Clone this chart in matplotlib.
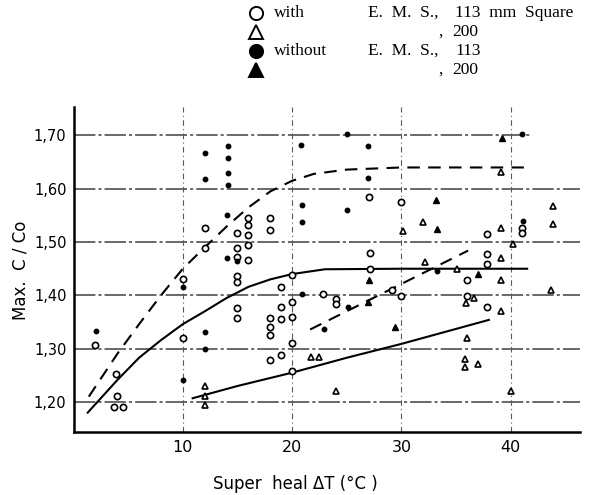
import numpy as np
import matplotlib
matplotlib.use("Agg")
import matplotlib.pyplot as plt

# open circles: with E.M.S., 113 mm square
with113_x = [2.0, 3.9, 4.0, 3.7, 4.5, 10.0, 10.0, 12.0, 12.0,
             15.0, 15.0, 15.0, 15.0, 15.0, 15.0, 15.0,
             16.0, 16.0, 16.0, 16.0, 16.0, 18.0, 18.0,
             18.0, 18.0, 18.0, 18.0, 19.0, 19.0, 19.0, 19.0,
             20.0, 20.0, 20.0, 20.0, 20.0,
             22.8, 24.0, 24.0, 29.1, 30.0, 27.0, 30.0, 27.1, 27.1,
             36.0, 36.0, 37.8, 37.8, 37.8, 37.8, 41.0, 41.0]
with113_y = [1.307, 1.252, 1.211, 1.191, 1.191, 1.431, 1.320, 1.526, 1.488,
             1.517, 1.488, 1.472, 1.437, 1.426, 1.376, 1.358,
             1.545, 1.532, 1.513, 1.495, 1.466, 1.545, 1.523,
             1.357, 1.340, 1.326, 1.279, 1.416, 1.378, 1.356, 1.288,
             1.439, 1.388, 1.360, 1.311, 1.258,
             1.402, 1.393, 1.383, 1.411, 1.399, 1.585, 1.575, 1.480, 1.450,
             1.429, 1.399, 1.515, 1.478, 1.458, 1.379, 1.526, 1.517]

# open triangles: with E.M.S., 200
with200_x = [12.0, 12.0, 12.0, 21.7, 22.5, 24.0,
             30.15, 32.0, 32.2, 35.1, 35.9, 36.6, 36.0, 35.8, 35.8, 37.0,
             39.1, 39.1, 40.2, 39.1, 39.1, 39.1, 40.0,
             43.9, 43.9, 43.7]
with200_y = [1.230, 1.211, 1.194, 1.284, 1.284, 1.221,
             1.520, 1.537, 1.463, 1.450, 1.385, 1.396, 1.320, 1.281, 1.266, 1.272,
             1.632, 1.526, 1.496, 1.470, 1.428, 1.371, 1.221,
             1.567, 1.534, 1.411]

# filled circles: without E.M.S., 113
wo113_x = [2.05, 10.0, 10.0, 12.0, 12.0, 12.0, 12.0,
           14.1, 14.1, 14.1, 14.1, 14.0, 14.0, 15.0,
           20.8, 20.9, 20.9, 20.9, 22.9, 25.0, 25.0, 25.1,
           26.9, 26.9, 33.3, 41.1, 41.0]
wo113_y = [1.334, 1.416, 1.241, 1.668, 1.618, 1.331, 1.300,
           1.680, 1.657, 1.629, 1.607, 1.550, 1.471, 1.465,
           1.683, 1.570, 1.537, 1.403, 1.336, 1.703, 1.560, 1.379,
           1.680, 1.621, 1.446, 1.540, 1.703]

# filled triangles: without E.M.S., 200
wo200_x = [39.2, 33.2, 33.25, 37.0, 27.05, 29.4, 26.9]
wo200_y = [1.696, 1.579, 1.524, 1.441, 1.429, 1.341, 1.387]

# drawn curves
upper_dash_x = [1.4, 4, 6, 8, 10, 12, 14, 16, 18, 20, 22, 25, 30, 35, 41.2]
upper_dash_y = [1.21, 1.29, 1.346, 1.40, 1.45, 1.49, 1.529, 1.565, 1.595, 1.615,
                1.628, 1.636, 1.640, 1.640, 1.640]
upper_solid_x = [1.3, 4, 6, 8, 10, 12, 14, 16, 18, 20, 23, 30, 41.5]
upper_solid_y = [1.18, 1.241, 1.283, 1.316, 1.346, 1.37, 1.395, 1.416, 1.43,
                 1.44, 1.449, 1.450, 1.450]
lower_solid_x = [10.9, 15, 20, 25, 30, 38]
lower_solid_y = [1.207, 1.230, 1.255, 1.283, 1.309, 1.354]
lower_dash_x = [21.65, 36.1]
lower_dash_y = [1.336, 1.484]

yticks = [1.20, 1.30, 1.40, 1.50, 1.60, 1.70]
ytick_labels = ["1,20", "1,30", "1,40", "1,50", "1,60", "1,70"]
xticks = [10, 20, 30, 40]

fig = plt.figure(figsize=(6.03, 4.95), dpi=100)
ax = fig.add_axes([0.1219, 0.1273, 0.84, 0.6566])
ax.set_xlim(0, 46.34)
ax.set_ylim(1.1437, 1.7535)

sans = "DejaVu Sans"
serif = "Liberation Serif"

# grid lines, hand drawn look
hl_ends = [46.34, 46.34, 46.34, 46.34, 46.34, 41.8]
for yv, xe in zip(yticks, hl_ends):
    ax.plot([0, xe], [yv, yv], color="0.25", lw=1.1,
            ls=(0, (14, 2, 2, 2)), zorder=1)
for xv in xticks:
    ax.axvline(xv, color="0.35", lw=0.8, ls=(0, (5, 3, 1, 3)), zorder=1)

ax.plot(upper_dash_x, upper_dash_y, color="black", lw=1.5, ls=(0, (6, 4)), zorder=3)
ax.plot(upper_solid_x, upper_solid_y, color="black", lw=1.5, zorder=3)
ax.plot(lower_solid_x, lower_solid_y, color="black", lw=1.5, zorder=3)
ax.plot(lower_dash_x, lower_dash_y, color="black", lw=1.5, ls=(0, (6, 4)), zorder=3)

ax.plot(with113_x, with113_y, "o", ms=4.5, mfc="white", mec="black", mew=1.2, zorder=4)
ax.plot(with200_x, with200_y, "^", ms=5, mfc="white", mec="black", mew=1.2, zorder=4)
ax.plot(wo113_x, wo113_y, "o", ms=3.2, color="black", zorder=4)
ax.plot(wo200_x, wo200_y, "^", ms=4.2, color="black", zorder=4)

ax.spines["top"].set_visible(False)
ax.spines["right"].set_visible(False)
ax.spines["left"].set_linewidth(1.8)
ax.spines["bottom"].set_linewidth(1.8)

ax.set_yticks(yticks)
ax.set_yticklabels(ytick_labels, family=sans, fontsize=10.5)
ax.set_xticks(xticks)
ax.set_xticklabels([str(v) for v in xticks], family=sans, fontsize=11.5)
ax.tick_params(axis="y", length=0, pad=5)
ax.tick_params(axis="x", length=0, pad=6)

fig.text(21 / 603, 1 - 270 / 495, "Max.  C / Co", rotation=90, ha="center",
         va="center", family=sans, fontsize=12)
fig.text(295 / 603, 1 - 484 / 495, "Super  heal \u0394T (\u00b0C )", ha="center",
         va="center", family=sans, fontsize=12)

# legend drawn as free text like the original
rows = [13, 32, 51, 70]
legend_marks = [("o", "white"), ("^", "white"), ("o", "black"), ("^", "black")]
for py, (mk, fc) in zip(rows, legend_marks):
    fig.lines.append(plt.Line2D([256 / 603], [1 - py / 495], marker=mk, ms=9.5,
                                mfc=fc, mec="black", mew=1.4, ls="none",
                                transform=fig.transFigure))


def leg(px, row, s):
    fig.text(px / 603, 1 - rows[row] / 495, s, family=serif, fontsize=12.5,
             va="center")


leg(274, 0, "with")
leg(274, 2, "without")
leg(368, 0, "E.  M.  S.,")
leg(368, 2, "E.  M.  S.,")
leg(455, 0, "113  mm  Square")
leg(455, 2, "113")
leg(438, 1, ",")
leg(438, 3, ",")
leg(452, 1, "200")
leg(452, 3, "200")

fig.savefig("out.png", dpi=100)
